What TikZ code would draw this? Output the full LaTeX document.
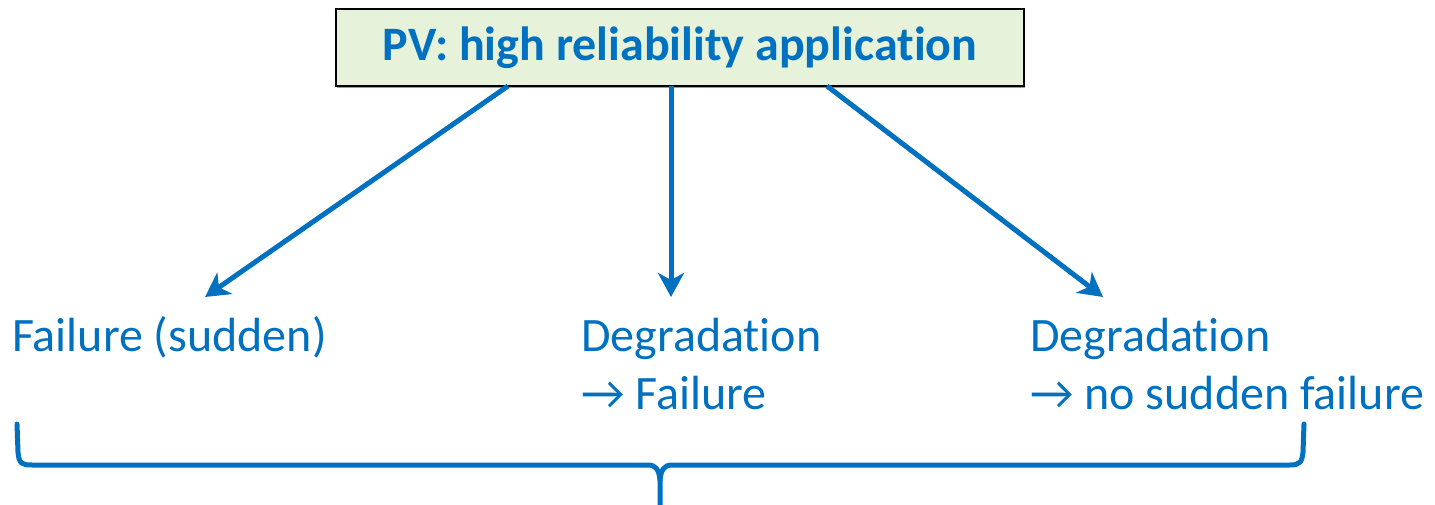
\documentclass[tikz,border=0pt]{standalone}
\usepackage{fontspec}
\setmainfont{Carlito}[Ligatures={NoCommon}]
\usetikzlibrary{arrows.meta}
\definecolor{tblue}{HTML}{0070C0}
\definecolor{boxfill}{HTML}{E6F2DA}
\tikzset{
  titlebox/.style={draw=black, line width=2pt, fill=boxfill, minimum width=688pt, minimum height=77pt, inner sep=0pt,
    text=tblue, font=\fontsize{48}{58}\selectfont\bfseries},
  lbl/.style={text=tblue, font=\fontsize{48}{58}\selectfont, align=left, inner sep=0pt, anchor=base west},
  conn/.style={draw=tblue, line width=5pt, -{Stealth[length=24pt,width=26pt,inset=7pt]}},
  bracepath/.style={draw=tblue, line width=5pt, line cap=round, line join=round}
}
\begin{document}
\begin{tikzpicture}[x=1pt,y=-1pt]
\useasboundingbox (0,0) rectangle (1435,505);
\fill[black!40] (337,11) rectangle (1025,88);
\node[titlebox] (title) at (680,47.5) {PV: high reliability application};
\node[lbl] (f1) at (12,351) {Failure (sudden)};
\node[lbl] (f2) at (581,409) {Degradation\\\textrightarrow{} Failure};
\node[lbl] (f3) at (1030,409) {Degradation\\\textrightarrow{} no sudden failure};
\coordinate (s1) at (508,86);
\coordinate (s2) at (671,86);
\coordinate (s3) at (827,86);
\coordinate (e1) at (205,297);
\coordinate (e2) at (671,297);
\coordinate (e3) at (1103,297);
\draw[conn] (s1) -- (e1);
\draw[conn] (s2) -- (e2);
\draw[conn] (s3) -- (e3);
\coordinate (bl) at (17,424);
\coordinate (br) at (1304,424);
\coordinate (bt) at (660,505);
\draw[bracepath] (bl) -- (18,452) .. controls (19,464) and (22,465) .. (32,465) -- (648,465)
  .. controls (656,465) and (659,470) .. (660,480) -- (bt);
\draw[bracepath] (660,480) .. controls (661,470) and (664,465) .. (672,465) -- (1290,465)
  .. controls (1300,465) and (1302,462) .. (1303,452) -- (br);
\end{tikzpicture}
\end{document}
